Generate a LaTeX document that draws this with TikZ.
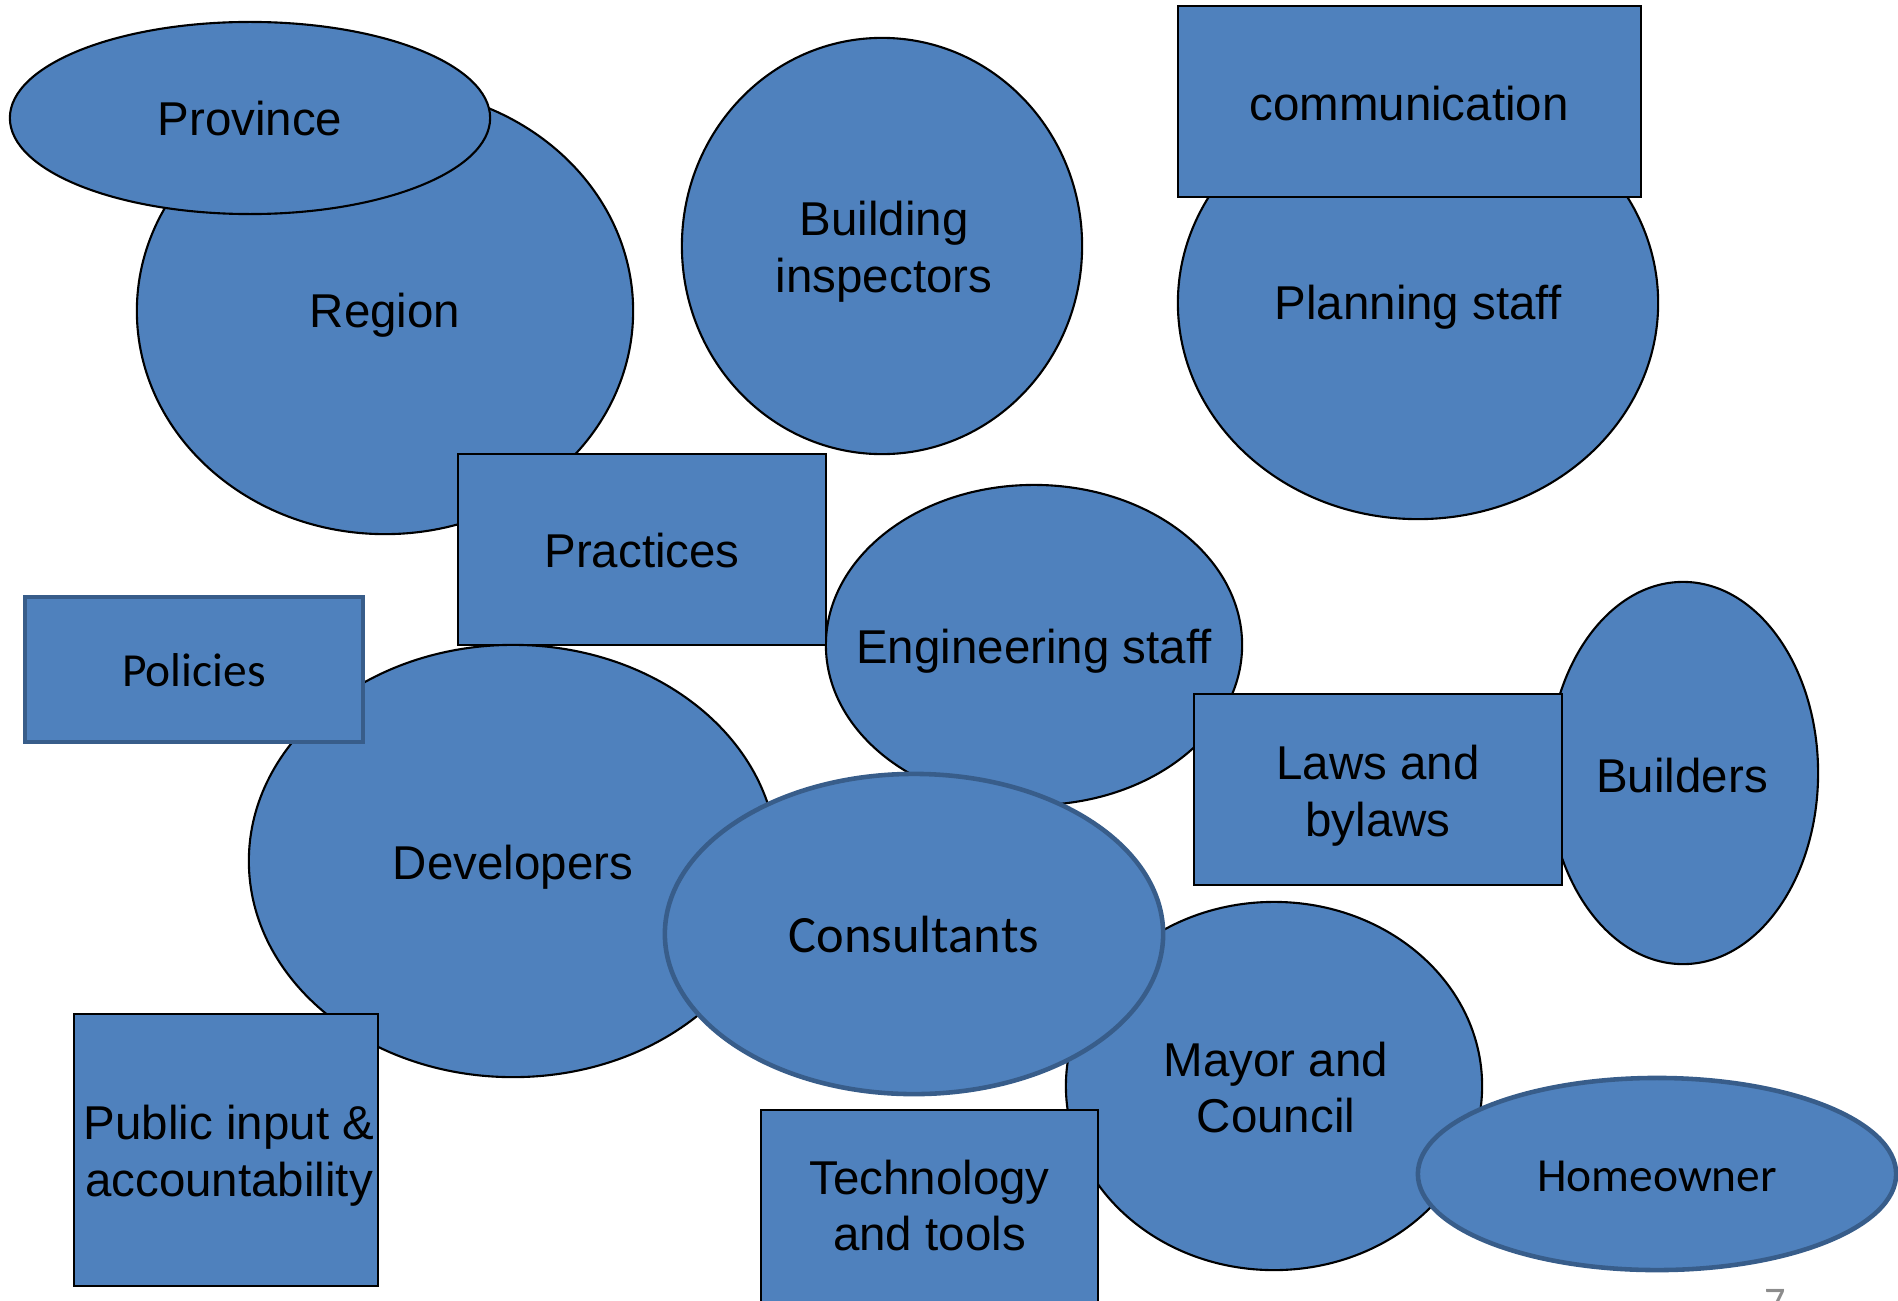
\documentclass[tikz,border=0pt]{standalone}
\usepackage{fontspec}
\setmainfont{Liberation Sans}
\newfontfamily\calibri{Carlito}
\usetikzlibrary{shapes.geometric}
\definecolor{fillblue}{HTML}{4F81BD}
\definecolor{edgeblue}{HTML}{385D8A}
\definecolor{pagegray}{HTML}{8C8C8C}
\tikzset{
 ell/.style={ellipse, fill=fillblue, draw=black, line width=0.6pt, inner sep=0pt, outer sep=0pt},
 ellB/.style={ellipse, fill=fillblue, draw=edgeblue, line width=1.3pt, inner sep=0pt, outer sep=0pt},
 box/.style={rectangle, fill=fillblue, draw=black, line width=0.6pt, inner sep=0pt, outer sep=0pt},
 boxB/.style={rectangle, fill=fillblue, draw=edgeblue, line width=1.3pt, inner sep=0pt, outer sep=0pt},
 txt/.style={align=center, font=\fontsize{13.5}{16.2}\selectfont, text=black, inner sep=0pt, yshift=-0.045cm},
 txtC/.style={align=center, font=\calibri\fontsize{13.5}{16.2}\selectfont, text=black, inner sep=0pt},
}
\begin{document}
\begin{tikzpicture}[x=0.01cm, y=-0.01cm]
\useasboundingbox (0,0) rectangle (1898,1300);
% Region and Province
\node[ell, minimum width=4.96cm, minimum height=4.46cm] (region) at (385,311) {};
\node[txt] (regionT) at (region.center) {Region};
\node[ell, minimum width=4.80cm, minimum height=1.92cm] (province) at (250,118) {};
\node[txt] (provinceT) at (250,114) {Province};
% Building inspectors
\node[ell, minimum width=4.00cm, minimum height=4.16cm] (building) at (882,246) {};
\node[txt] (buildingT) at (884,247) {Building\\ inspectors};
% Planning staff + communication
\node[ell, minimum width=4.80cm, minimum height=4.32cm] (planning) at (1418,303) {};
\node[txt] (planningT) at (planning.center) {Planning staff};
\node[box, minimum width=4.63cm, minimum height=1.91cm] (comm) at (1409.5,101.5) {};
\node[txt] (commT) at (1409,99.5) {communication};
% Engineering staff
\node[ell, minimum width=4.16cm, minimum height=3.20cm] (eng) at (1034,645) {};
\node[txt] (engT) at (1034,647) {Engineering staff};
% Practices
\node[box, minimum width=3.68cm, minimum height=1.91cm] (practices) at (642,549.5) {};
\node[txt] (practicesT) at (642,546.5) {Practices};
% Developers
\node[ell, minimum width=5.28cm, minimum height=4.32cm] (dev) at (513,861) {};
\node[txt] (devT) at (513,863) {Developers};
% Policies
\node[boxB, minimum width=3.38cm, minimum height=1.45cm] (policies) at (194,669.5) {};
\node[txtC] (policiesT) at (194,670) {Policies};
% Public input
\node[box, minimum width=3.04cm, minimum height=2.72cm] (public) at (226,1150) {};
\node[txt] (publicT) at (229,1151) {Public input \&\\ accountability};
% Builders
\node[ell, minimum width=2.70cm, minimum height=3.82cm] (builders) at (1683,773) {};
\node[txt] (buildersT) at (1682,771) {Builders};
% Laws and bylaws
\node[box, minimum width=3.68cm, minimum height=1.91cm] (laws) at (1378,789.5) {};
\node[txt] (lawsT) at (1378,791) {Laws and\\ bylaws};
% Mayor and Council
\node[ell, minimum width=4.16cm, minimum height=3.68cm] (mayor) at (1274,1086) {};
\node[txt] (mayorT) at (1276,1083) {Mayor and\\ Council};
% Consultants
\node[ellB, minimum width=4.98cm, minimum height=3.20cm] (cons) at (914,934) {};
\node[txt, font=\calibri\fontsize{14.9}{17.9}\selectfont, yshift=0.065cm] (consT) at (914,936) {Consultants};
% Homeowner
\node[ellB, minimum width=4.78cm, minimum height=1.92cm] (home) at (1657,1174) {};
\node[txtC] (homeT) at (1657,1176) {Homeowner};
% Technology and tools
\node[box, minimum width=3.37cm, minimum height=2.00cm] (tech) at (929.5,1210) {};
\node[txt] (techT) at (929.5,1201) {Technology\\ and tools};
% page number
\node[anchor=north, inner sep=0pt, text=pagegray, font=\calibri\fontsize{12}{14}\selectfont] (page) at (1775,1289) {7};
\end{tikzpicture}
\end{document}
